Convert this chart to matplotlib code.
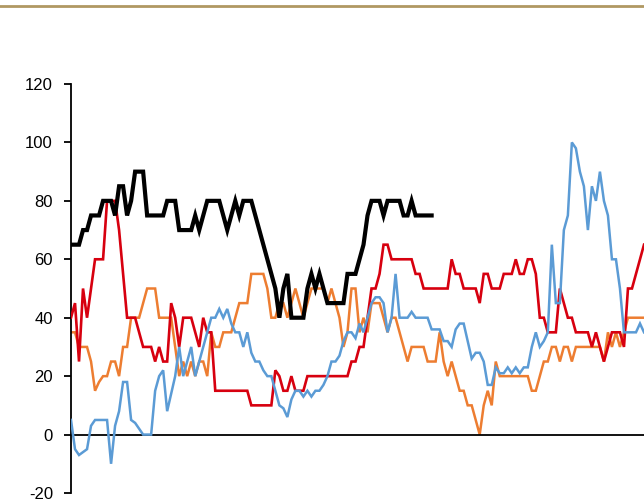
import numpy as np
import matplotlib
matplotlib.use("Agg")
import matplotlib.pyplot as plt
from matplotlib.lines import Line2D

plt.rcParams['font.family'] = ['Liberation Sans', 'DejaVu Sans']

# Weekly observations (index = period), values in index points
black = [65, 65, 65, 70, 70, 75, 75, 75, 80, 80, 80, 75, 85, 85, 75, 80, 90, 90, 90, 75,
         75, 75, 75, 75, 80, 80, 80, 70, 70, 70, 70, 75, 70, 75, 80, 80, 80, 80, 75, 70,
         75, 80, 75, 80, 80, 80, 75, 70, 65, 60, 55, 50, 40, 50, 55, 40, 40, 40, 40, 50,
         55, 50, 55, 50, 45, 45, 45, 45, 45, 55, 55, 55, 60, 65, 75, 80, 80, 80, 75, 80,
         80, 80, 80, 75, 75, 80, 75, 75, 75, 75, 75]

red = [40, 45, 25, 50, 40, 50, 60, 60, 60, 80, 80, 80, 70, 55, 40, 40, 40, 35, 30, 30,
       30, 25, 30, 25, 25, 45, 40, 30, 40, 40, 40, 35, 30, 40, 35, 35, 15, 15, 15, 15,
       15, 15, 15, 15, 15, 10, 10, 10, 10, 10, 10, 22, 20, 15, 15, 20, 15, 15, 15, 20,
       20, 20, 20, 20, 20, 20, 20, 20, 20, 20, 25, 25, 30, 30, 40, 50, 50, 55, 65, 65,
       60, 60, 60, 60, 60, 60, 55, 55, 50, 50, 50, 50, 50, 50, 50, 60, 55, 55, 50, 50,
       50, 50, 45, 55, 55, 50, 50, 50, 55, 55, 55, 60, 55, 55, 60, 60, 55, 40, 40, 35,
       35, 35, 50, 45, 40, 40, 35, 35, 35, 35, 30, 35, 30, 25, 30, 35, 35, 35, 30, 50,
       50, 55, 60, 65]

orange = [35, 35, 30, 30, 30, 25, 15, 18, 20, 20, 25, 25, 20, 30, 30, 40, 40, 40, 45, 50,
          50, 50, 40, 40, 40, 40, 30, 20, 25, 20, 25, 20, 25, 25, 20, 35, 30, 30, 35, 35,
          35, 40, 45, 45, 45, 55, 55, 55, 55, 50, 40, 40, 45, 45, 40, 45, 50, 45, 40, 45,
          50, 50, 50, 50, 45, 50, 45, 40, 30, 35, 50, 50, 35, 40, 35, 45, 45, 45, 40, 35,
          40, 40, 35, 30, 25, 30, 30, 30, 30, 25, 25, 25, 35, 25, 20, 25, 20, 15, 15, 10,
          10, 5, 0, 10, 15, 10, 25, 20, 20, 20, 20, 20, 20, 20, 20, 15, 15, 20, 25, 25,
          30, 30, 25, 30, 30, 25, 30, 30, 30, 30, 30, 30, 30, 25, 35, 30, 35, 30, 35, 40,
          40, 40, 40, 40]

blue = [5, -5, -7, -6, -5, 3, 5, 5, 5, 5, -10, 3, 8, 18, 18, 5, 4, 2, 0, 0,
        0, 15, 20, 22, 8, 14, 20, 30, 20, 25, 30, 20, 25, 30, 35, 40, 40, 43, 40, 43,
        38, 35, 35, 30, 35, 28, 25, 25, 22, 20, 20, 15, 10, 9, 6, 12, 15, 15, 13, 15,
        13, 15, 15, 17, 20, 25, 25, 27, 32, 35, 35, 33, 38, 35, 40, 45, 47, 47, 45, 35,
        40, 55, 40, 40, 40, 42, 40, 40, 40, 40, 36, 36, 36, 32, 32, 30, 36, 38, 38, 32,
        26, 28, 28, 25, 17, 17, 23, 21, 21, 23, 21, 23, 21, 23, 23, 30, 35, 30, 32, 35,
        65, 45, 45, 70, 75, 100, 98, 90, 85, 70, 85, 80, 90, 80, 75, 60, 60, 50, 35, 35,
        35, 35, 38, 35]

y_ticks = [-20, 0, 20, 40, 60, 80, 100, 120]

fig = plt.figure(figsize=(6.44, 5.01), dpi=100)
ax = fig.add_axes([71 / 644, 1 - 493 / 501, 1 - 71 / 644, (493 - 84) / 501])

def draw(vals, color, lw, z):
    x = np.arange(len(vals))
    ax.plot(x, vals, color=color, lw=lw, zorder=z, solid_joinstyle='miter')

draw(orange, '#ED7D31', 1.8, 2)
draw(red, '#D7000F', 1.9, 3)
draw(blue, '#5B9BD5', 1.8, 4)
draw(black, '#000000', 3.0, 5)

ax.set_xlim(0, 143)
ax.set_ylim(-20, 120)
ax.set_yticks(y_ticks)
ax.set_yticklabels([str(t) for t in y_ticks], fontsize=12)
ax.tick_params(axis='y', direction='out', length=5, width=1.3, pad=8)
ax.spines['left'].set_linewidth(1.3)
ax.spines['top'].set_visible(False)
ax.spines['right'].set_visible(False)
ax.spines['bottom'].set_position(('data', 0))
ax.spines['bottom'].set_linewidth(1.3)
ax.set_xticks([])
ax.patch.set_visible(False)

fig.add_artist(Line2D([0, 1], [1 - 5.5 / 501, 1 - 5.5 / 501], color='#B09862', lw=2.0,
                      transform=fig.transFigure))

fig.savefig('out.png', dpi=100)
